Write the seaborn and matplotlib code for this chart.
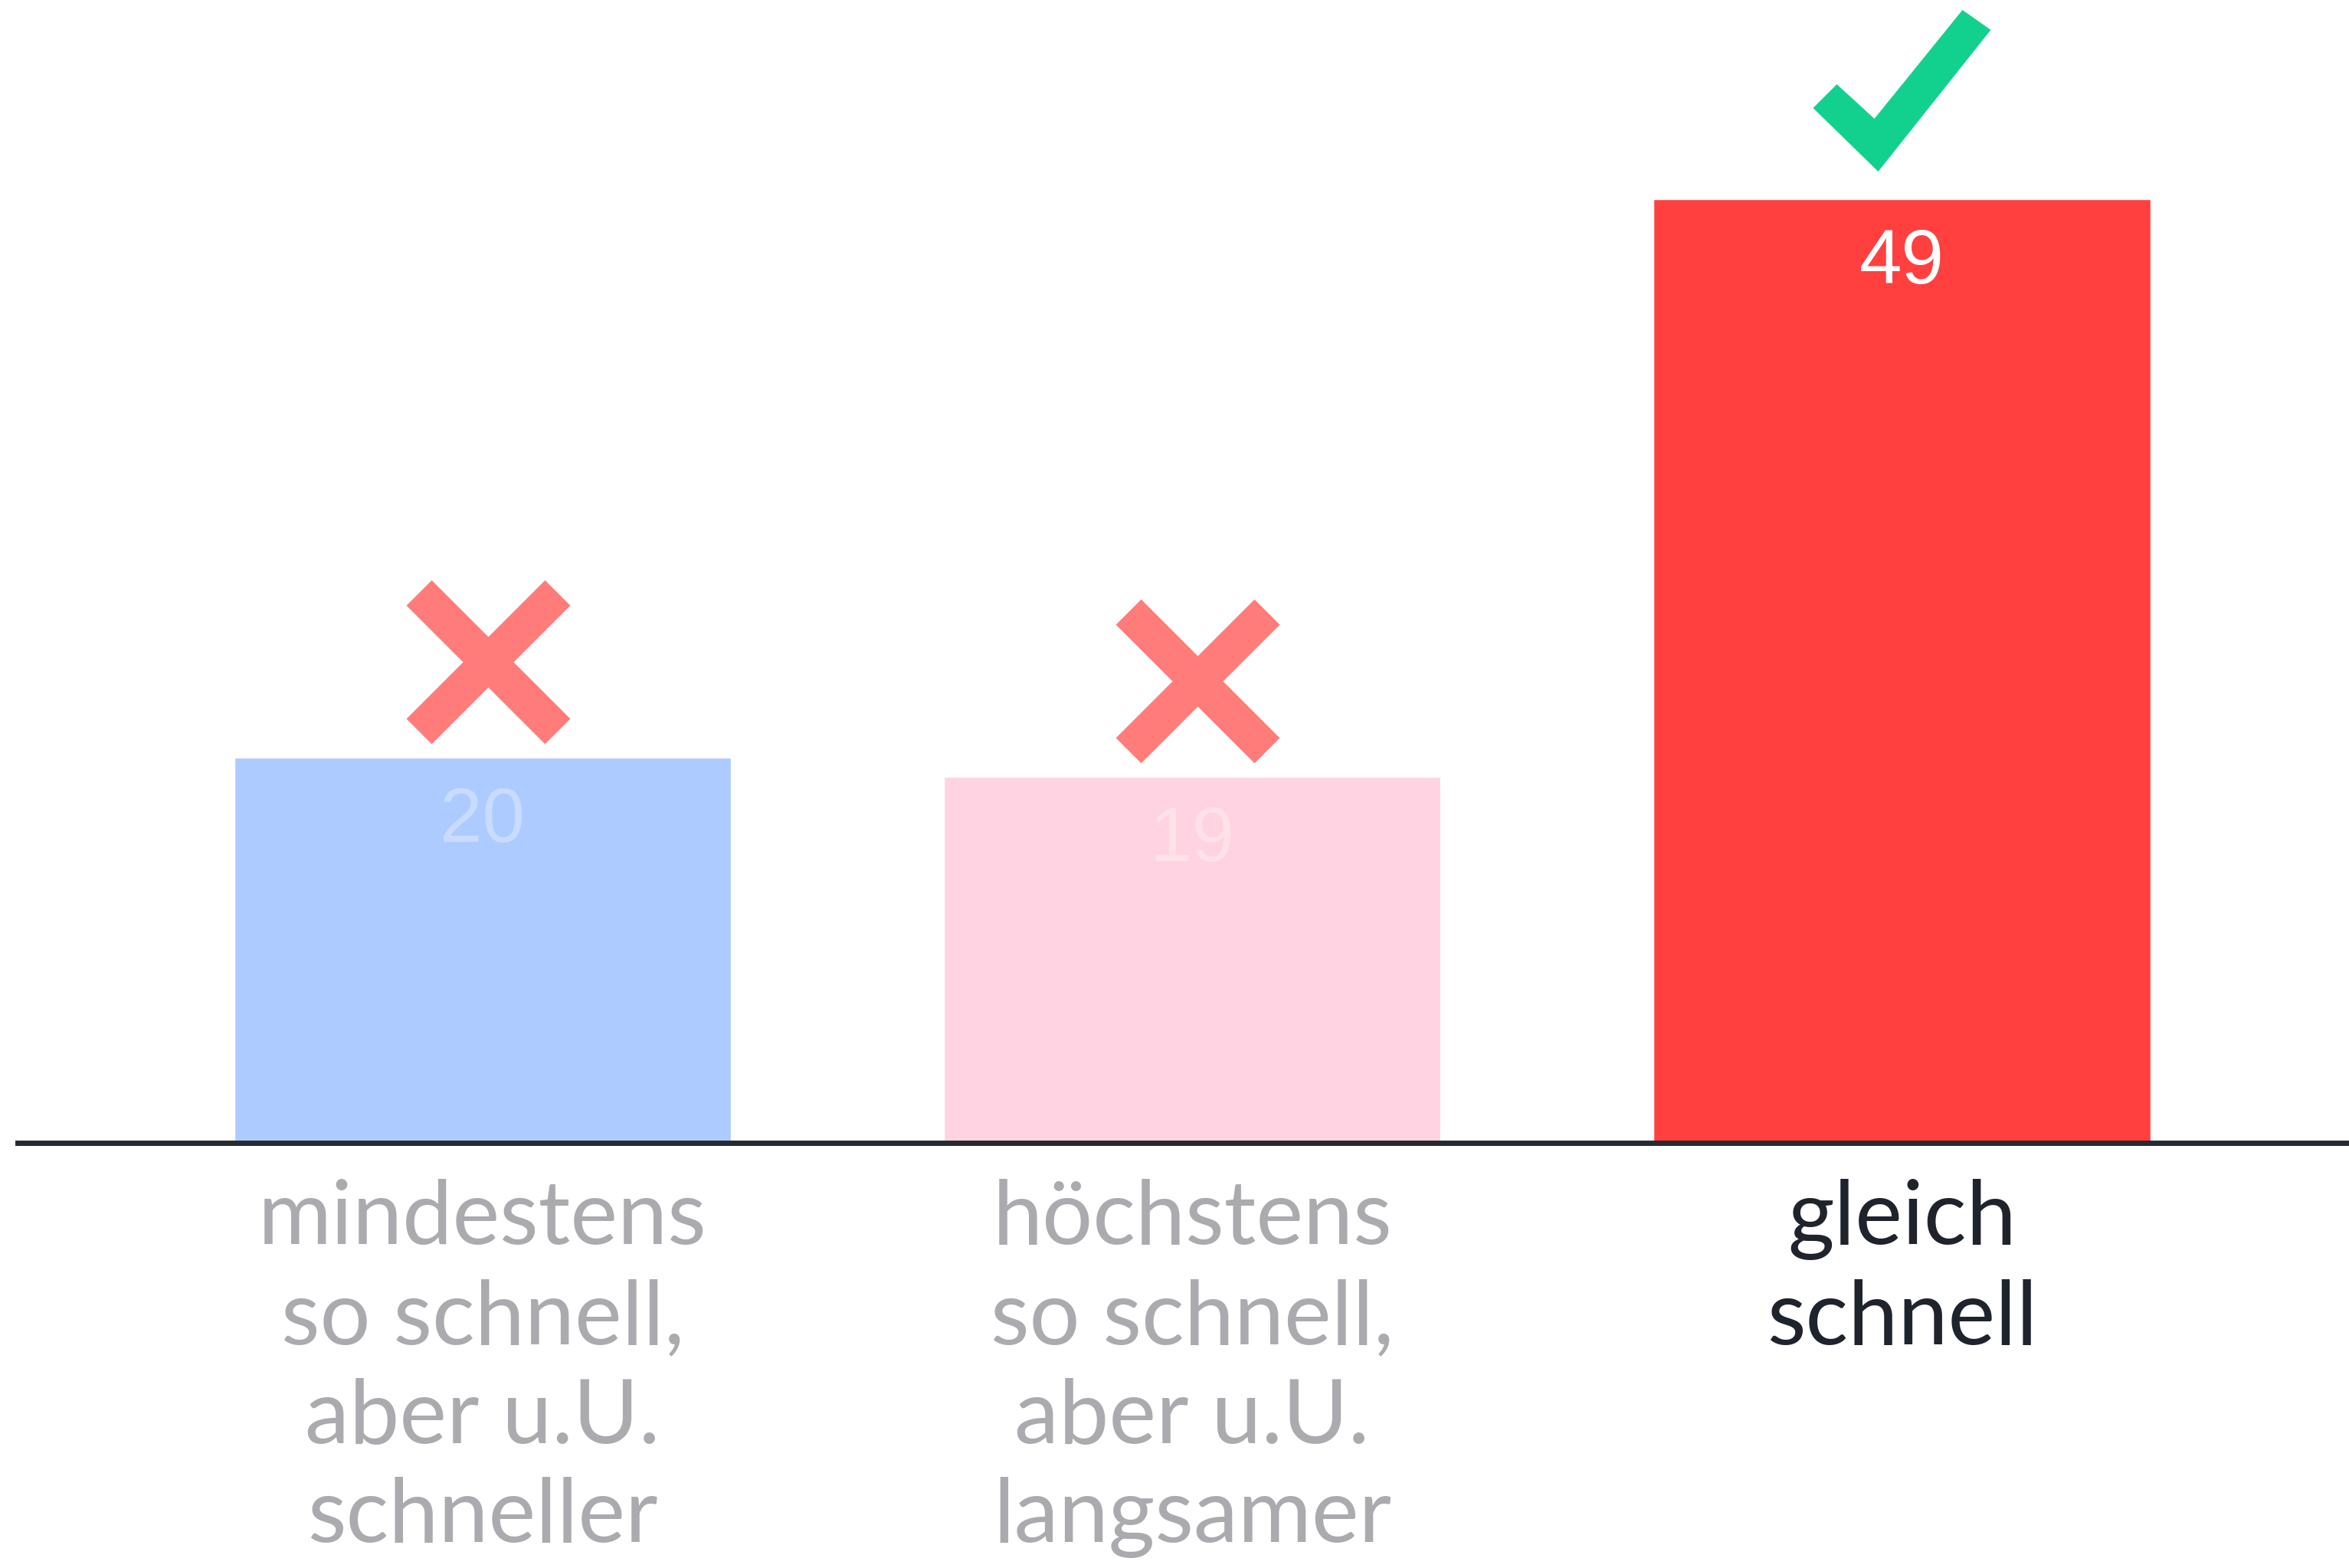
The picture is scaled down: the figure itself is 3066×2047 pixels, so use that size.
import matplotlib
matplotlib.use("Agg")
import matplotlib.pyplot as plt
import seaborn as sns
from matplotlib.path import Path

# data
categories = ["mindestens\nso schnell,\naber u.U.\nschneller",
              "höchstens\nso schnell,\naber u.U.\nlangsamer",
              "gleich\nschnell"]
values = [20, 19, 49]
verdicts = ["wrong", "wrong", "right"]

# styles
BAR_COLORS = ["#ADCBFF", "#FFD3E1", "#FF403E"]
VALUE_COLORS = ["#C9DBFF", "#FFE1EA", "#FFFFFF"]
TICK_COLORS = ["#ABABAF", "#ABABAF", "#1F232C"]
CROSS_COLOR = "#FF7C7A"
CHECK_COLOR = "#12D18E"
AXIS_COLOR = "#262A33"


def cross_path(a=90.5, d=16.5):
    # X outline, arms at 45 degrees with square cut ends
    pts = [(2*d, 0), (a+d, a-d), (a-d, a+d), (0, 2*d), (-(a-d), a+d),
           (-(a+d), a-d), (-2*d, 0), (-(a+d), -(a-d)), (-(a-d), -(a+d)),
           (0, -2*d), (a-d, -(a+d)), (a+d, -(a-d)), (2*d, 0)]
    return Path(pts, closed=True)


def check_path():
    pts = [(-116, -22.5), (-85, 8.5), (-36, -36.5), (79, 105.5),
           (116, 79.5), (-31, -105.5), (-116, -22.5)]
    return Path(pts, closed=True)


sns.set_theme(style="white")

fig = plt.figure(figsize=(30.66, 20.47), dpi=100)
ax = fig.add_axes([0.0075, 0.2711, 0.9925, 0.7289])

sns.barplot(x=categories, y=values, hue=categories, palette=BAR_COLORS,
            saturation=1, width=0.7, legend=False, ax=ax)

ax.set_xlim(-0.655, 2.63)
ax.set_ylim(0, 59.35)

bars = sorted([p for p in ax.patches if p.get_height() > 0], key=lambda p: p.get_x())
for p, v, c, verdict in zip(bars, values, VALUE_COLORS, verdicts):
    xc = p.get_x() + p.get_width() / 2
    ax.annotate(f"{v}", (xc, v), xytext=(0, -79), textcoords="offset points",
                ha="center", va="baseline", fontsize=72, color=c,
                family=["Liberation Sans", "DejaVu Sans"])
    if verdict == "right":
        ax.plot([xc], [v + 5.67], marker=check_path(), markersize=167,
                color=CHECK_COLOR, mew=0, linestyle="none")
    else:
        ax.plot([xc + 0.008], [v + 4.98], marker=cross_path(), markersize=154,
                color=CROSS_COLOR, mew=0, linestyle="none")

for s in ["top", "right", "left"]:
    ax.spines[s].set_visible(False)
ax.spines["bottom"].set_color(AXIS_COLOR)
ax.spines["bottom"].set_linewidth(5)
ax.spines["bottom"].set_zorder(5)

ax.set_yticks([])
ax.set_xlabel("")
ax.set_ylabel("")
ax.tick_params(axis="x", length=0, pad=34)
for lbl, c in zip(ax.get_xticklabels(), TICK_COLORS):
    lbl.set_color(c)
    lbl.set_fontsize(84)
    lbl.set_family(["Lato", "DejaVu Sans"])
    lbl.set_linespacing(1.29)

fig.savefig("out.png", dpi=100, facecolor="white")
